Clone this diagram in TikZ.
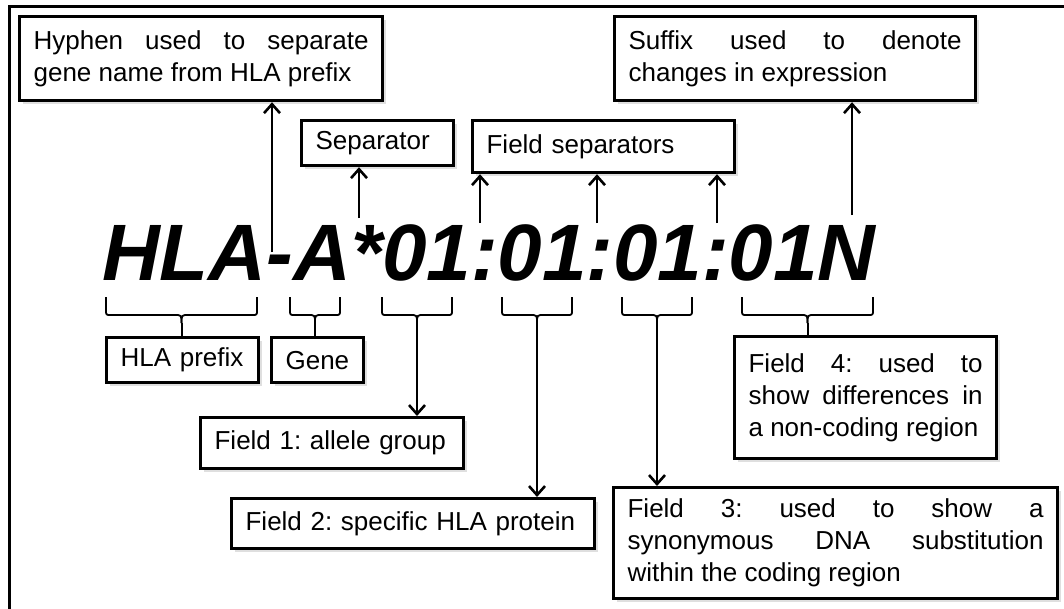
\documentclass[tikz,border=0pt]{standalone}
\usepackage{fontspec}
\setmainfont{Liberation Sans}
\usetikzlibrary{arrows.meta, shadows}
\hbadness=10000

\begin{document}
\begin{tikzpicture}[x=1pt, y=-1pt,
    lbl/.style={draw, line width=3.2pt, fill=white, anchor=north west,
      inner xsep=14pt, inner ysep=0pt, align=left,
      font=\fontsize{26}{32}\selectfont\frenchspacing,
      drop shadow={shadow xshift=3pt, shadow yshift=-3pt, opacity=.25}},
    para/.style={lbl, align=justify},
    code/.style={anchor=base west, inner sep=0pt,
      font=\fontsize{80}{80}\selectfont\bfseries\itshape},
    pointer/.style={line width=2.6pt, -{Straight Barb[length=9pt, width=16pt, line width=2.6pt]}},
    brace/.style={line width=1.8pt, line join=round},
    tie/.style={line width=2pt}]
\useasboundingbox (0,0) rectangle (1064,608);

% frame
\draw[line width=3pt] (9,610) -- (9,6) -- (1066,6);

% allele name
\node[code] (allele) at (102,280) {HLA-A*01:01:01:01N};

% labels above
\node[para, text width=335pt, minimum height=84pt] (hyphen) at (18,15)
  {Hyphen used to separate\linebreak gene name from HLA prefix};
\node[lbl, text width=124pt, minimum height=45pt] (sep) at (300,119) {Separator};
\node[lbl, text width=234pt, minimum height=52pt] (fieldsep) at (471,119) {Field separators};
\node[para, text width=333pt, minimum height=84pt] (suffix) at (613,15)
  {Suffix used to denote\linebreak changes in expression};

\coordinate (hy) at (272,252);
\coordinate (ast) at (359,218);
\coordinate (c1) at (480,223);
\coordinate (c2) at (597,223);
\coordinate (c3) at (717,223);
\coordinate (nn) at (852,215);
\draw[pointer] (hy) -- (hyphen.south -| hy);
\draw[pointer] (ast) -- (sep.south -| ast);
\draw[pointer] (c1) -- (fieldsep.south -| c1);
\draw[pointer] (c2) -- (fieldsep.south -| c2);
\draw[pointer] (c3) -- (fieldsep.south -| c3);
\draw[pointer] (nn) -- (suffix.south -| nn);

% braces under the name
\foreach \g/\a/\b in {pre/106/257, gen/290/340, fa/382/452, fb/502/572, fc/622/692, fd/742/873}{
  \pgfmathsetmacro\m{(\a+\b)/2}
  \draw[brace] (\a,297) -- (\a,310) .. controls (\a,315) .. ({\a+5},315) -- ({\m-7},315)
    .. controls (\m,315) .. (\m,323);
  \draw[brace] (\b,297) -- (\b,310) .. controls (\b,315) .. ({\b-5},315) -- ({\m+7},315)
    .. controls (\m,315) .. (\m,323);
  \coordinate (\g) at (\m,323);
}

% labels below
\node[lbl, text width=124pt, minimum height=45pt] (prefix) at (105,336) {HLA prefix};
\node[lbl, text width=64pt, minimum height=45pt] (gene) at (270,336) {Gene};
\node[lbl, text width=235pt, minimum height=51pt] (field1) at (199,416) {Field 1: allele group};
\node[lbl, text width=335pt, minimum height=50pt] (field2) at (230,497) {Field 2: specific HLA protein};
\node[para, text width=416pt, minimum height=111pt] (field3) at (612,486)
  {Field 3: used to show a\linebreak synonymous DNA substitution\linebreak within the coding region};
\node[para, text width=234pt, minimum height=122pt] (field4) at (733,335)
  {Field 4: used to\linebreak show differences in\linebreak a non-coding region};

\draw[tie] (pre) -- (prefix.north -| pre);
\draw[tie] (gen) -- (gene.north -| gen);
\draw[pointer] (fa) -- (field1.north -| fa);
\draw[pointer] (fb) -- (field2.north -| fb);
\draw[pointer] (fc) -- (field3.north -| fc);
\draw[tie] (fd) -- (field4.north -| fd);
\end{tikzpicture}
\end{document}
